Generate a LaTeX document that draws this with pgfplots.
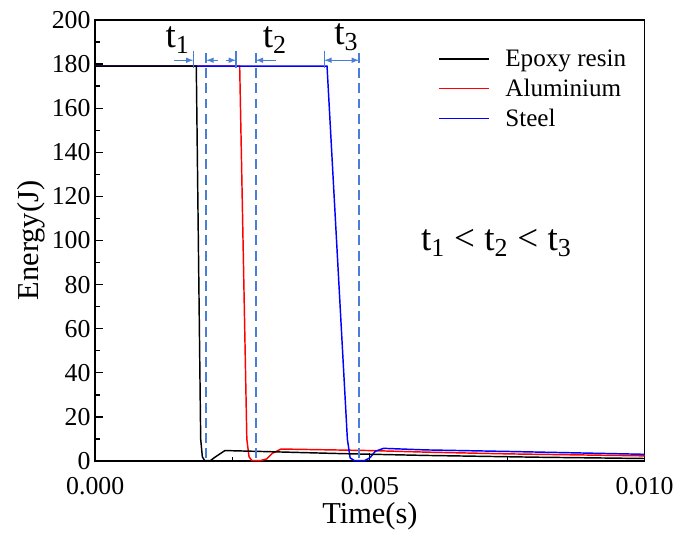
\documentclass[border=0pt]{standalone}
\usepackage{pgfplots}
\pgfplotsset{compat=1.18}
\usepackage{fontspec}
\setmainfont{Liberation Serif}
\definecolor{dashblue}{RGB}{74,126,214}
\begin{document}
\begin{tikzpicture}
\begin{axis}[
  scale only axis,
  width=415.5pt, height=333.75pt,
  xmin=0, xmax=0.010, ymin=0, ymax=200,
  xtick={0,0.005,0.010},
  minor xtick={0.0025,0.0075},
  ytick={0,20,...,200},
  minor ytick={10,30,...,190},
  tick pos=left,
  tick align=inside,
  major tick length=6pt,
  minor tick length=3.5pt,
  scaled x ticks=false,
  xticklabel style={/pgf/number format/fixed, /pgf/number format/fixed zerofill, /pgf/number format/precision=3, yshift=-9pt},
  /pgf/number format/assume math mode=true,
  tick label style={font=\fontsize{19.5}{22}\selectfont},
  label style={font=\fontsize{23}{26}\selectfont},
  xlabel={Time(s)},
  ylabel={Energy(J)},
  xlabel style={yshift=1.5pt},
  ylabel style={yshift=-2pt},
  axis line style={line width=1.1pt},
  every tick/.style={black, line width=0.9pt},
  clip=false,
  legend style={draw=none, fill=none, at={(axis description cs:0.617,0.945)}, anchor=north west,
    font=\fontsize{19}{21}\selectfont, row sep=4pt, legend cell align=left,
    /tikz/every odd column/.style={column sep=10pt}},
  legend image code/.code={\draw[#1] (0cm,0cm) -- (1.32cm,0cm);},
]
\path (axis description cs:-0.1733,-0.1573) rectangle (axis description cs:1.0505,1.045);
\addlegendimage{black, line width=1.1pt}
\addlegendentry{Epoxy resin}
\addlegendimage{red, line width=1.1pt}
\addlegendentry{Aluminium}
\addlegendimage{blue, line width=1.1pt}
\addlegendentry{Steel}
\addplot[red, line width=1.1pt, forget plot] coordinates {
 (0,179) (0.00263,179) (0.00276,10) (0.00280,2) (0.00285,0.3) (0.00300,0.2) (0.00312,1.0) (0.00322,3.5) (0.00338,5.5) (0.0036,5.4) (0.005,4.8) (0.006,4.1) (0.0075,3.3) (0.010,2.4)};
\addplot[blue, line width=1.1pt, forget plot] coordinates {
 (0,179) (0.00422,179) (0.00459,10) (0.00464,1.5) (0.00472,0.2) (0.00490,0.2) (0.00500,1.5) (0.00510,4.5) (0.00525,5.8) (0.0060,5.1) (0.0075,4.4) (0.010,3.1)};
\addplot[black, line width=1.1pt, forget plot] coordinates {
 (0,179) (0.00184,179) (0.00192,10) (0.00195,2) (0.00199,0.3) (0.00210,0.3) (0.00218,1.8) (0.00236,4.8) (0.0030,4.4) (0.0045,3.4) (0.006,2.6) (0.008,1.8) (0.010,1.2)};
% dashed guide lines
\addplot[dashblue, line width=1.3pt, dash pattern=on 7.5pt off 4pt, forget plot] coordinates {(0.002022,185) (0.002022,0)};
\addplot[dashblue, line width=1.3pt, dash pattern=on 7.5pt off 4pt, forget plot] coordinates {(0.002924,185) (0.002924,0)};
\addplot[dashblue, line width=1.3pt, dash pattern=on 7.5pt off 4pt, forget plot] coordinates {(0.004801,185) (0.004801,0)};
% short bars
\addplot[dashblue, line width=1.2pt, forget plot] coordinates {(0.001787,186) (0.001787,178)};
\addplot[dashblue, line width=1.2pt, forget plot] coordinates {(0.002563,186) (0.002563,178)};
\addplot[dashblue, line width=1.2pt, forget plot] coordinates {(0.004170,186) (0.004170,178)};
% arrows
\addplot[dashblue, line width=0.9pt, -latex, forget plot] coordinates {(0.001426,181.7) (0.001787,181.7)};
\addplot[dashblue, line width=0.9pt, -latex, forget plot] coordinates {(0.002238,181.7) (0.002022,181.7)};
\addplot[dashblue, line width=0.9pt, -latex, forget plot] coordinates {(0.002383,181.7) (0.002563,181.7)};
\addplot[dashblue, line width=0.9pt, -latex, forget plot] coordinates {(0.003285,181.7) (0.002924,181.7)};
\addplot[dashblue, line width=0.9pt, latex-latex, forget plot] coordinates {(0.004170,181.7) (0.004801,181.7)};
\node[font=\fontsize{28}{30}\selectfont] at (axis cs:0.00150,191) {t\textsubscript{1}};
\node[font=\fontsize{28}{30}\selectfont] at (axis cs:0.00327,191) {t\textsubscript{2}};
\node[font=\fontsize{28}{30}\selectfont] at (axis cs:0.00457,192) {t\textsubscript{3}};
\node[font=\fontsize{28}{30}\selectfont] at (axis cs:0.00730,99) {t\textsubscript{1} < t\textsubscript{2} < t\textsubscript{3}};
\end{axis}
\end{tikzpicture}
\end{document}
